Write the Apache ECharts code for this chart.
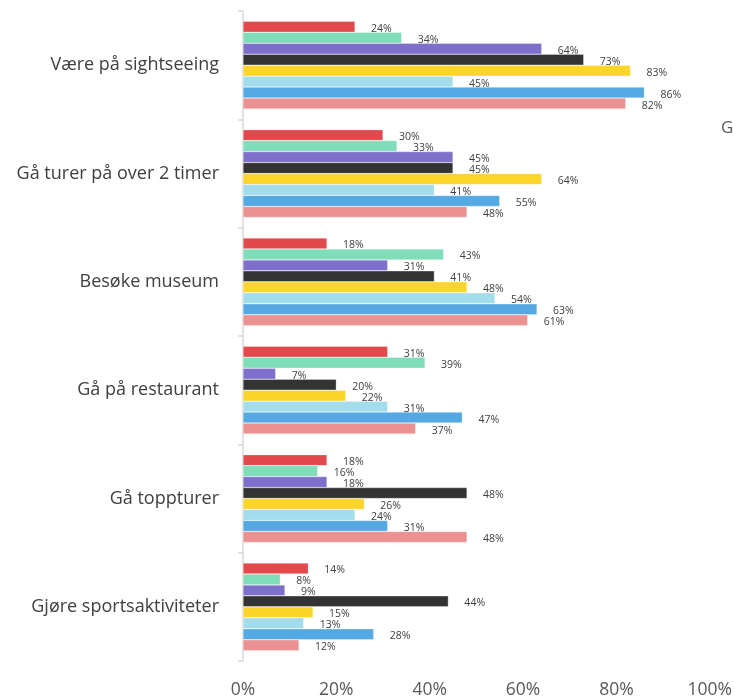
<!DOCTYPE html>
<html>
<head>
<meta charset="utf-8">
<script src="https://cdn.jsdelivr.net/npm/echarts@6/dist/echarts.min.js"></script>
<style>
  html, body { margin: 0; padding: 0; background: #fff; }
  #chart { width: 735px; height: 699px; }
</style>
</head>
<body>
<div id="chart"></div>
<script>
  // categories, top to bottom
  const categories = ['Være på sightseeing', 'Gå turer på over 2 timer', 'Besøke museum',
    'Gå på restaurant', 'Gå toppturer', 'Gjøre sportsaktiviteter'];
  const xTicks = [0, 20, 40, 60, 80, 100];

  // one array per coloured bar (top to bottom inside each group)
  const serie1 = [24, 30, 18, 31, 18, 14];
  const serie2 = [34, 33, 43, 39, 16, 8];
  const serie3 = [64, 45, 31, 7, 18, 9];
  const serie4 = [73, 45, 41, 20, 48, 44];
  const serie5 = [83, 64, 48, 22, 26, 15];
  const serie6 = [45, 41, 54, 31, 24, 13];
  const serie7 = [86, 55, 63, 47, 31, 28];
  const serie8 = [82, 48, 61, 37, 48, 12];

  const colors = ['#e2484c', '#80ddb9', '#7e6fcb', '#333333', '#fcd42a', '#a3dcea', '#54a9e3', '#eb9192'];
  const allSeries = [serie1, serie2, serie3, serie4, serie5, serie6, serie7, serie8];

  const font = 'Open Sans';

  let myChart = echarts.init(document.getElementById('chart'));

  let series = allSeries.map((d, i) => ({
    name: 'Serie ' + (i + 1),
    type: 'bar',
    data: d,
    barGap: '0%',
    barCategoryGap: '19%',
    itemStyle: { color: colors[i], borderColor: 'rgba(255,255,255,0.6)', borderWidth: 0.5 },
    label: {
      show: true,
      position: 'right',
      distance: 16,
      offset: [0, 2],
      formatter: '{c}%',
      fontFamily: font,
      fontSize: 10.5,
      color: '#404040'
    },
    animation: false
  }));

  let option = {
    backgroundColor: '#fff',
    textStyle: { fontFamily: font },
    grid: { left: 243, right: 22, top: 11, bottom: 38 },
    xAxis: {
      type: 'value',
      min: xTicks[0],
      max: xTicks[xTicks.length - 1],
      interval: 20,
      axisLine: { show: false },
      axisTick: { show: false },
      splitLine: { show: false },
      axisLabel: { formatter: '{value}%', fontSize: 17.5, color: '#595959', margin: 20, fontFamily: font }
    },
    yAxis: {
      type: 'category',
      data: categories,
      inverse: true,
      axisLine: { show: true, lineStyle: { color: '#d9d9d9', width: 1.5 } },
      axisTick: { show: true, length: 5, lineStyle: { color: '#d9d9d9', width: 1.5 } },
      axisLabel: { fontSize: 18, color: '#404040', margin: 24, padding: [6, 0, 0, 0], fontFamily: font }
    },
    graphic: [{
      type: 'text',
      left: 721,
      top: 120,
      style: { text: 'G', fontSize: 17, fill: '#595959', fontFamily: font }
    }],
    series: series
  };

  myChart.setOption(option);
</script>
</body>
</html>
